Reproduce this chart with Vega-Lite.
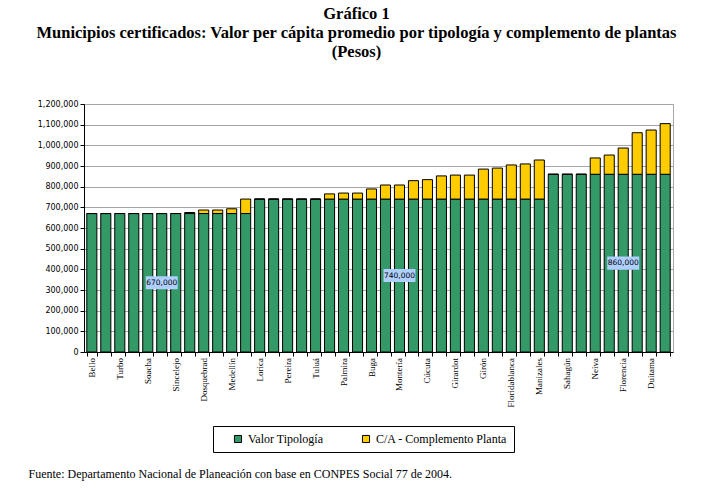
{
  "$schema": "https://vega.github.io/schema/vega-lite/v6.json",
  "description": "Municipios certificados: valor per cápita promedio por tipología y complemento de plantas",
  "autosize": {"type": "none"},
  "padding": {"left": 84, "top": 104, "right": 44, "bottom": 141},
  "width": 589,
  "height": 248,
  "background": "white",
  "title": {
    "text": [
      "Gráfico 1",
      "Municipios certificados: Valor per cápita promedio por tipología y complemento de plantas",
      "(Pesos)"
    ],
    "font": "Liberation Serif",
    "fontSize": 16.5,
    "fontWeight": "bold",
    "color": "black",
    "lineHeight": 19,
    "anchor": "middle",
    "baseline": "bottom",
    "dx": -22,
    "offset": 24
  },
  "data": {
    "values": [
      {"orden": 1, "municipio": "Bello", "Valor Tipología": 670000, "C/A - Complemento Planta": 0},
      {"orden": 2, "Valor Tipología": 670000, "C/A - Complemento Planta": 0},
      {"orden": 3, "municipio": "Turbo", "Valor Tipología": 670000, "C/A - Complemento Planta": 0},
      {"orden": 4, "Valor Tipología": 670000, "C/A - Complemento Planta": 0},
      {"orden": 5, "municipio": "Soacha", "Valor Tipología": 670000, "C/A - Complemento Planta": 0},
      {"orden": 6, "Valor Tipología": 670000, "C/A - Complemento Planta": 0, "rotulo": true},
      {"orden": 7, "municipio": "Sincelejo", "Valor Tipología": 670000, "C/A - Complemento Planta": 0},
      {"orden": 8, "Valor Tipología": 670000, "C/A - Complemento Planta": 5000},
      {"orden": 9, "municipio": "Dosquebrad", "Valor Tipología": 670000, "C/A - Complemento Planta": 17000},
      {"orden": 10, "Valor Tipología": 670000, "C/A - Complemento Planta": 17000},
      {"orden": 11, "municipio": "Medellín", "Valor Tipología": 670000, "C/A - Complemento Planta": 23000},
      {"orden": 12, "Valor Tipología": 670000, "C/A - Complemento Planta": 70000},
      {"orden": 13, "municipio": "Lorica", "Valor Tipología": 740000, "C/A - Complemento Planta": 0},
      {"orden": 14, "Valor Tipología": 740000, "C/A - Complemento Planta": 0},
      {"orden": 15, "municipio": "Pereira", "Valor Tipología": 740000, "C/A - Complemento Planta": 0},
      {"orden": 16, "Valor Tipología": 740000, "C/A - Complemento Planta": 0},
      {"orden": 17, "municipio": "Tuluá", "Valor Tipología": 740000, "C/A - Complemento Planta": 0},
      {"orden": 18, "Valor Tipología": 740000, "C/A - Complemento Planta": 25000},
      {"orden": 19, "municipio": "Palmira", "Valor Tipología": 740000, "C/A - Complemento Planta": 29000},
      {"orden": 20, "Valor Tipología": 740000, "C/A - Complemento Planta": 29000},
      {"orden": 21, "municipio": "Buga", "Valor Tipología": 740000, "C/A - Complemento Planta": 49000},
      {"orden": 22, "Valor Tipología": 740000, "C/A - Complemento Planta": 68000},
      {"orden": 23, "municipio": "Montería", "Valor Tipología": 740000, "C/A - Complemento Planta": 68000, "rotulo": true},
      {"orden": 24, "Valor Tipología": 740000, "C/A - Complemento Planta": 89000},
      {"orden": 25, "municipio": "Cúcuta", "Valor Tipología": 740000, "C/A - Complemento Planta": 94000},
      {"orden": 26, "Valor Tipología": 740000, "C/A - Complemento Planta": 112000},
      {"orden": 27, "municipio": "Girardot", "Valor Tipología": 740000, "C/A - Complemento Planta": 116000},
      {"orden": 28, "Valor Tipología": 740000, "C/A - Complemento Planta": 116000},
      {"orden": 29, "municipio": "Girón", "Valor Tipología": 740000, "C/A - Complemento Planta": 145000},
      {"orden": 30, "Valor Tipología": 740000, "C/A - Complemento Planta": 150000},
      {"orden": 31, "municipio": "Floridablanca", "Valor Tipología": 740000, "C/A - Complemento Planta": 165000},
      {"orden": 32, "Valor Tipología": 740000, "C/A - Complemento Planta": 170000},
      {"orden": 33, "municipio": "Manizales", "Valor Tipología": 740000, "C/A - Complemento Planta": 189000},
      {"orden": 34, "Valor Tipología": 860000, "C/A - Complemento Planta": 0},
      {"orden": 35, "municipio": "Sahagún", "Valor Tipología": 860000, "C/A - Complemento Planta": 0},
      {"orden": 36, "Valor Tipología": 860000, "C/A - Complemento Planta": 0},
      {"orden": 37, "municipio": "Neiva", "Valor Tipología": 860000, "C/A - Complemento Planta": 79000},
      {"orden": 38, "Valor Tipología": 860000, "C/A - Complemento Planta": 93000},
      {"orden": 39, "municipio": "Florencia", "Valor Tipología": 860000, "C/A - Complemento Planta": 127000, "rotulo": true},
      {"orden": 40, "Valor Tipología": 860000, "C/A - Complemento Planta": 201000},
      {"orden": 41, "municipio": "Duitama", "Valor Tipología": 860000, "C/A - Complemento Planta": 214000},
      {"orden": 42, "Valor Tipología": 860000, "C/A - Complemento Planta": 245000}
    ]
  },
  "transform": [
    {"fold": ["Valor Tipología", "C/A - Complemento Planta"], "as": ["componente", "valor"]}
  ],
  "encoding": {
    "x": {
      "field": "orden",
      "type": "ordinal",
      "scale": {"paddingInner": 0.28, "paddingOuter": 0.2},
      "axis": {
        "labels": false,
        "tickBand": "extent",
        "tickSize": 4,
        "tickColor": "black",
        "domainColor": "black",
        "grid": false,
        "title": "Fuente: Departamento Nacional de Planeación con base en CONPES Social 77 de 2004.",
        "titleFont": "Liberation Serif",
        "titleFontSize": 12,
        "titleFontWeight": "normal",
        "titleColor": "black",
        "titleAlign": "left",
        "titleBaseline": "alphabetic",
        "titleX": -56,
        "titleY": 125
      }
    }
  },
  "layer": [
    {
      "mark": {"type": "bar", "stroke": "black", "strokeWidth": 1},
      "encoding": {
        "y": {
          "field": "valor",
          "type": "quantitative",
          "title": null,
          "scale": {"domain": [0, 1200000]}
        },
        "color": {
          "field": "componente",
          "type": "nominal",
          "scale": {
            "domain": ["Valor Tipología", "C/A - Complemento Planta"],
            "range": ["#339966", "#ffcc00"]
          },
          "legend": {
            "orient": "none",
            "legendX": 129,
            "legendY": 322,
            "direction": "horizontal",
            "title": null,
            "strokeColor": "black",
            "padding": 7,
            "symbolOffset": 12,
            "symbolType": "square",
            "symbolSize": 50,
            "symbolStrokeColor": "black",
            "symbolStrokeWidth": 1,
            "symbolOpacity": 1,
            "labelFont": "Liberation Serif",
            "labelFontSize": 12,
            "labelColor": "black",
            "columnPadding": 24
          }
        },
        "order": {"field": "componente", "sort": "descending"}
      }
    },
    {
      "transform": [{"filter": "datum.componente == 'Valor Tipología' && isValid(datum.municipio)"}],
      "mark": {
        "type": "text",
        "angle": 270,
        "align": "right",
        "baseline": "middle",
        "dx": -6,
        "font": "Liberation Serif",
        "fontSize": 9,
        "color": "black"
      },
      "encoding": {
        "y": {"datum": 0, "type": "quantitative", "title": null},
        "text": {"field": "municipio"}
      }
    },
    {
      "transform": [{"filter": "datum.componente == 'Valor Tipología' && datum.rotulo"}],
      "mark": {
        "type": "point",
        "shape": "M-1,-0.41H1V0.41H-1Z",
        "size": 1024,
        "filled": true,
        "color": "#aecfff",
        "opacity": 1,
        "strokeWidth": 0
      },
      "encoding": {
        "y": {"field": "valor", "type": "quantitative", "title": null, "stack": "zero", "bandPosition": 0.5}
      }
    },
    {
      "transform": [{"filter": "datum.componente == 'Valor Tipología' && datum.rotulo"}],
      "mark": {
        "type": "text",
        "font": "DejaVu Sans",
        "fontSize": 7.5,
        "color": "black"
      },
      "encoding": {
        "y": {"field": "valor", "type": "quantitative", "title": null, "stack": "zero", "bandPosition": 0.5},
        "text": {"field": "valor", "format": ",d"}
      }
    }
  ],
  "config": {
    "view": {"stroke": "#a6a6a6"},
    "axisY": {
      "tickCount": 12,
      "labelOverlap": false,
      "labelFont": "DejaVu Sans",
      "labelFontSize": 8,
      "labelColor": "black",
      "labelPadding": 2,
      "tickSize": 4,
      "tickColor": "black",
      "domainColor": "black",
      "gridColor": "#a6a6a6"
    }
  }
}
